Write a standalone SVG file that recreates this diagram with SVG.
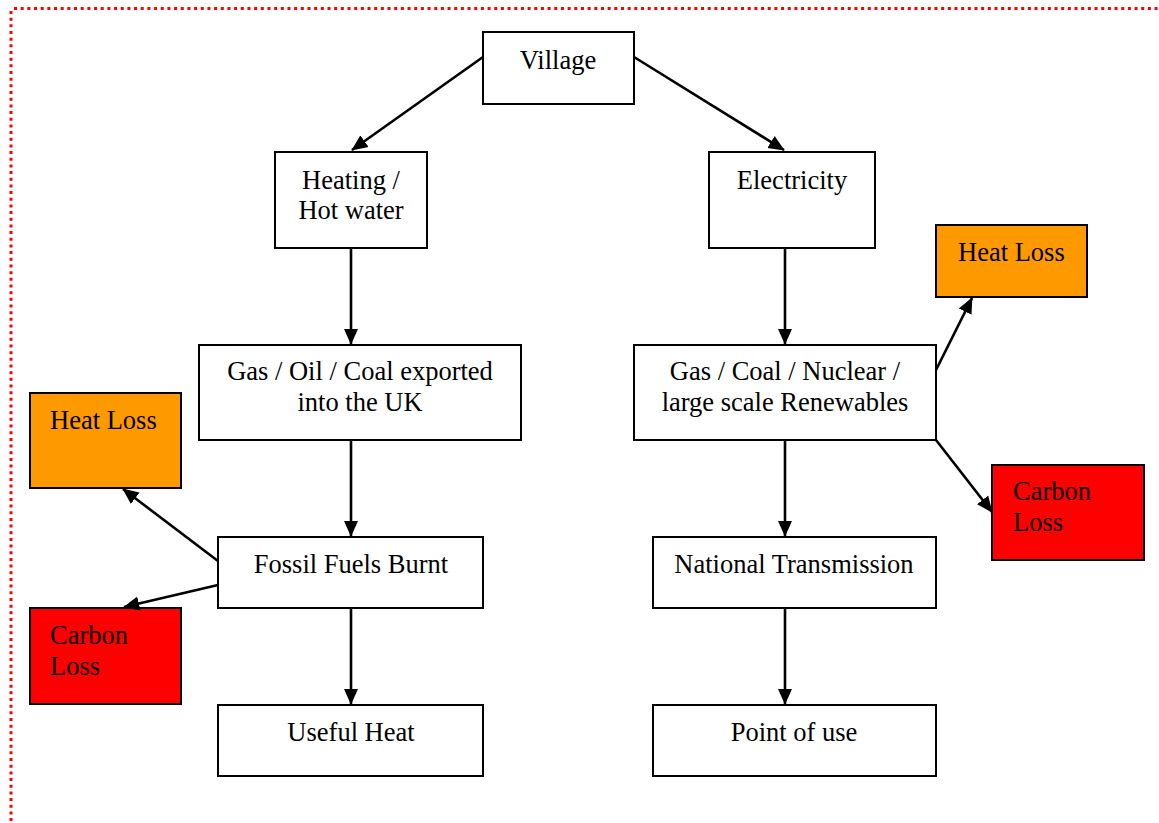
<svg xmlns="http://www.w3.org/2000/svg" width="1159" height="823" viewBox="0 0 1159 823">
<style>
.b{fill:#fff;stroke:#000;stroke-width:2}
.o{fill:#ff9900;stroke:#000;stroke-width:2}
.r{fill:#ff0000;stroke:#000;stroke-width:2}
text{font-family:"Liberation Serif","Times New Roman",serif;font-size:26.5px;fill:#000}
.c{text-anchor:middle}
.e{stroke:#000;stroke-width:2.6;fill:none;marker-end:url(#ah)}
.brd{stroke:#ff0000;stroke-width:3;stroke-dasharray:3 3.67;fill:none}
</style>
<defs>
<marker id="ah" viewBox="0 0 10 10" refX="9.5" refY="5" markerWidth="6.2" markerHeight="6.2" orient="auto" markerUnits="strokeWidth"><path d="M0,0.6 L10,5 L0,9.4 z" fill="#000"/></marker>
</defs>
<g id="border"><path class="brd" d="M14,8.5 H1159 M11,11 V823"/></g>
<g id="n-village"><rect class="b" x="483" y="32" width="151" height="72"/><text class="c" x="558" y="69">Village</text></g>
<g id="n-heating"><rect class="b" x="275" y="152" width="152" height="96"/><text class="c" x="351" y="189">Heating /</text><text class="c" x="351" y="219">Hot water</text></g>
<g id="n-electricity"><rect class="b" x="709" y="152" width="166" height="96"/><text class="c" x="792" y="189">Electricity</text></g>
<g id="n-heatloss-r"><rect class="o" x="936" y="225" width="151" height="72"/><text x="958" y="261">Heat Loss</text></g>
<g id="n-gasoil"><rect class="b" x="199" y="345" width="322" height="95"/><text class="c" x="360" y="380">Gas / Oil / Coal exported</text><text class="c" x="360" y="411">into the UK</text></g>
<g id="n-gascoal"><rect class="b" x="634" y="345" width="302" height="95"/><text class="c" x="785" y="380">Gas / Coal / Nuclear /</text><text class="c" x="785" y="411">large scale Renewables</text></g>
<g id="n-heatloss-l"><rect class="o" x="30" y="393" width="151" height="95"/><text x="50" y="429">Heat Loss</text></g>
<g id="n-carbon-r"><rect class="r" x="992" y="465" width="152" height="95"/><text x="1013" y="500">Carbon</text><text x="1013" y="531">Loss</text></g>
<g id="n-fossil"><rect class="b" x="218" y="537" width="265" height="71"/><text class="c" x="351" y="573">Fossil Fuels Burnt</text></g>
<g id="n-national"><rect class="b" x="653" y="537" width="283" height="71"/><text class="c" x="794" y="573">National Transmission</text></g>
<g id="n-carbon-l"><rect class="r" x="30" y="608" width="151" height="96"/><text x="50" y="644">Carbon</text><text x="50" y="675">Loss</text></g>
<g id="n-useful"><rect class="b" x="218" y="705" width="265" height="71"/><text class="c" x="351" y="741">Useful Heat</text></g>
<g id="n-point"><rect class="b" x="653" y="705" width="283" height="71"/><text class="c" x="794" y="741">Point of use</text></g>
<g id="connectors">
<path class="e" d="M483,57 L352,150"/>
<path class="e" d="M634,57 L784,150"/>
<path class="e" d="M351,248 V344"/>
<path class="e" d="M785,248 V344"/>
<path class="e" d="M351,440 V536"/>
<path class="e" d="M785,440 V536"/>
<path class="e" d="M351,608 V704"/>
<path class="e" d="M785,608 V704"/>
<path class="e" d="M936,370 L972,298"/>
<path class="e" d="M936,440 L992,512"/>
<path class="e" d="M218,561 L123,489"/>
<path class="e" d="M218,585 L124,607"/>
</g>
</svg>
